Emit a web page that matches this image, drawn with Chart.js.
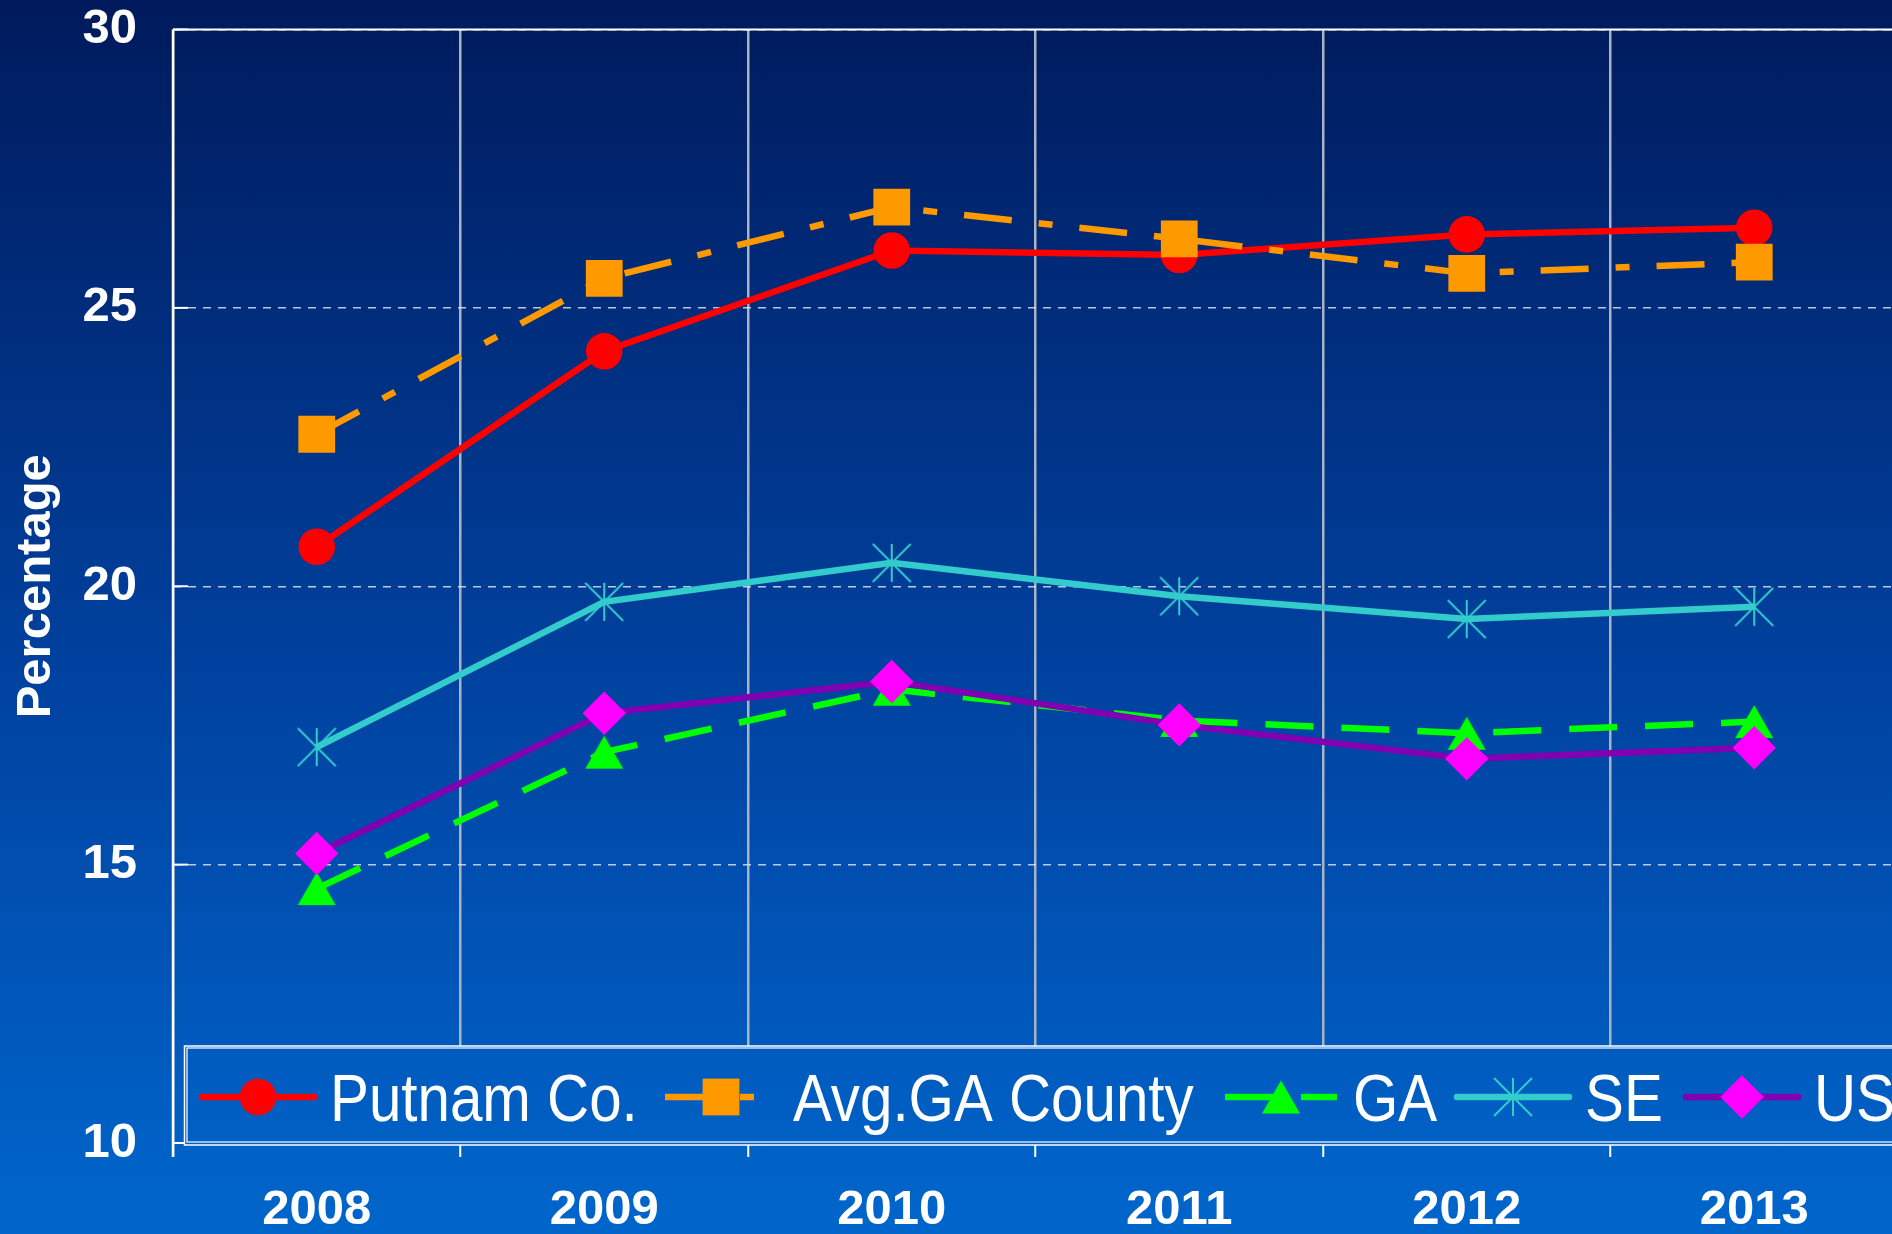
<!DOCTYPE html>
<html>
<head>
<meta charset="utf-8">
<script src="https://cdn.jsdelivr.net/npm/chart.js@4.4.1/dist/chart.umd.min.js"></script>
<style>
html, body { margin:0; padding:0; width:1892px; height:1234px; overflow:hidden;
  background: linear-gradient(to bottom, #001a5c 0%, #0042a0 55%, #0066cc 100%); }
canvas { display:block; }
</style>
</head>
<body>
<canvas id="c" width="1900" height="1234" style="width:1900px;height:1234px"></canvas>
<script>
// ---- data ----
const years = ['2008', '2009', '2010', '2011', '2012', '2013'];
const putnamCo = [20.71, 24.22, 26.03, 25.95, 26.32, 26.44];
const avgGACounty = [22.73, 25.53, 26.81, 26.24, 25.62, 25.82];
const gaState = [14.57, 17.02, 18.15, 17.59, 17.36, 17.57];
const southEast = [17.11, 19.72, 20.42, 19.82, 19.41, 19.63];
const unitedStates = [15.20, 17.72, 18.29, 17.51, 16.90, 17.10];
const seriesLabels = ['Putnam Co.', 'Avg.GA County', 'GA', 'SE', 'US'];
const yMin = 10, yMax = 30, yStep = 5;
const yTitle = 'Percentage';

// ---- styling ----
const FONT = '"Liberation Sans", Arial, sans-serif';
const bgStops = [[0, '#001a5c'], [0.55, '#0042a0'], [1, '#0066cc']];
const LINE_W = 6.5;

function makeTriangle(color, w, h) {
  const c = document.createElement('canvas');
  c.width = w + 2; c.height = h + 2;
  const g = c.getContext('2d');
  g.fillStyle = color;
  g.beginPath();
  g.moveTo(c.width / 2, 1);
  g.lineTo(c.width - 1, h + 1);
  g.lineTo(1, h + 1);
  g.closePath();
  g.fill();
  return c;
}
function makeStar(color, s, lw) {
  const c = document.createElement('canvas');
  c.width = s + 2; c.height = s + 2;
  const g = c.getContext('2d');
  g.strokeStyle = color; g.lineWidth = lw;
  const a = 1, b = s + 1, m = c.width / 2;
  g.beginPath();
  g.moveTo(a, a); g.lineTo(b, b);
  g.moveTo(b, a); g.lineTo(a, b);
  g.moveTo(m, a); g.lineTo(m, b);
  g.stroke();
  return c;
}
const triImg = makeTriangle('#00ff00', 38, 33);
const starImg = makeStar('#33cccc', 38, 2);

const datasets = [
  { label: seriesLabels[0], data: putnamCo, borderColor: '#ff0000', backgroundColor: '#ff0000',
    pointStyle: 'circle', pointRadius: 18.3, order: 5 },
  { label: seriesLabels[1], data: avgGACounty, borderColor: '#ff9900', backgroundColor: '#ff9900',
    borderDash: [48, 27, 14, 27], pointStyle: 'rect', pointRadius: 26, order: 4 },
  { label: seriesLabels[2], data: gaState, borderColor: '#00ff00', backgroundColor: '#00ff00',
    borderDash: [48, 28], pointStyle: triImg, pointRadius: 19, order: 3 },
  { label: seriesLabels[3], data: southEast, borderColor: '#33cccc', backgroundColor: '#33cccc',
    pointStyle: starImg, pointRadius: 19, order: 2 },
  { label: seriesLabels[4], data: unitedStates, borderColor: '#8000b2', backgroundColor: '#ff00ff',
    pointStyle: 'rectRot', pointRadius: 21.7, order: 1 }
];
datasets.forEach(d => {
  d.borderWidth = LINE_W;
  d.pointBackgroundColor = d.backgroundColor;
  d.pointBorderWidth = 0;
  d.pointHoverRadius = d.pointRadius;
  d.tension = 0;
  d.fill = false;
  d.clip = false;
});

// axes frame: top border, left axis, inner y tick marks
const framePlugin = {
  id: 'frame',
  beforeDatasetsDraw(chart) {
    const { ctx, chartArea: a } = chart;
    const ys = chart.scales.y;
    ctx.save();
    ctx.strokeStyle = '#ffffff';
    ctx.lineWidth = 2;
    ctx.beginPath();
    ctx.moveTo(a.left, a.top); ctx.lineTo(a.right, a.top);
    ctx.stroke();
    ctx.lineWidth = 2.5;
    ctx.beginPath();
    ctx.moveTo(a.left, a.top); ctx.lineTo(a.left, a.bottom + 14);
    ctx.stroke();
    ctx.lineWidth = 2;
    ys.ticks.forEach(t => {
      const p = ys.getPixelForValue(t.value);
      ctx.beginPath(); ctx.moveTo(a.left, p); ctx.lineTo(a.left + 15, p); ctx.stroke();
    });
    ctx.restore();
  }
};

// boxed legend inside the bottom of the plot
const LEG = { left: 184, top: 1046, bottom: 1145, y: 1097, starts: [199, 662, 1222, 1454, 1683],
  lineLen: 118, textGap: 13, fontSize: 67, textScaleX: 0.87, baseline: 1121 };
function drawMarker(ctx, ds, x, y) {
  const s = ds.pointStyle, r = ds.pointRadius;
  ctx.save();
  ctx.fillStyle = ds.pointBackgroundColor;
  if (typeof s === 'object') {
    ctx.drawImage(s, x - s.width / 2, y - s.height / 2);
  } else if (s === 'circle') {
    ctx.beginPath(); ctx.arc(x, y, r, 0, Math.PI * 2); ctx.fill();
  } else if (s === 'rect') {
    const h = Math.SQRT1_2 * r;
    ctx.fillRect(x - h, y - h, 2 * h, 2 * h);
  } else if (s === 'rectRot') {
    ctx.beginPath();
    ctx.moveTo(x - r, y); ctx.lineTo(x, y - r); ctx.lineTo(x + r, y); ctx.lineTo(x, y + r);
    ctx.closePath(); ctx.fill();
  }
  ctx.restore();
}
const legendPlugin = {
  id: 'boxLegend',
  afterDraw(chart) {
    const ctx = chart.ctx;
    ctx.save();
    const g = ctx.createLinearGradient(0, 0, 0, chart.height);
    bgStops.forEach(([o, c]) => g.addColorStop(o, c));
    ctx.fillStyle = g;
    ctx.fillRect(LEG.left, LEG.top, chart.width - LEG.left + 10, LEG.bottom - LEG.top);
    ctx.strokeStyle = '#ffffff';
    ctx.lineWidth = 1.5;
    ctx.strokeRect(LEG.left + 0.5, LEG.top, chart.width, LEG.bottom - LEG.top);
    ctx.lineWidth = 1.2;
    ctx.strokeRect(LEG.left + 3, LEG.top + 2, chart.width, LEG.bottom - LEG.top - 5);
    chart.data.datasets.forEach((ds, i) => {
      const x0 = LEG.starts[i];
      ctx.save();
      ctx.strokeStyle = ds.borderColor;
      ctx.lineWidth = ds.borderWidth;
      if (ds.borderDash) { ctx.setLineDash(ds.borderDash); ctx.lineCap = 'butt'; }
      else { ctx.lineCap = 'round'; }
      ctx.beginPath();
      ctx.moveTo(x0 + 3, LEG.y); ctx.lineTo(x0 + LEG.lineLen - 3, LEG.y);
      ctx.stroke();
      ctx.restore();
      drawMarker(ctx, ds, x0 + LEG.lineLen / 2, LEG.y);
      ctx.save();
      ctx.fillStyle = '#ffffff';
      ctx.font = LEG.fontSize + 'px ' + FONT;
      ctx.textBaseline = 'alphabetic';
      ctx.translate(x0 + LEG.lineLen + LEG.textGap, LEG.baseline);
      ctx.scale(LEG.textScaleX, 1);
      ctx.fillText(ds.label, 0, 0);
      ctx.restore();
    });
    ctx.restore();
  }
};

new Chart(document.getElementById('c'), {
  type: 'line',
  data: { labels: years, datasets },
  options: {
    responsive: false,
    animation: false,
    events: [],
    layout: { autoPadding: false, padding: { top: 29.5, right: 2, bottom: 0, left: 0 } },
    plugins: { legend: { display: false }, tooltip: { enabled: false } },
    scales: {
      x: {
        type: 'category',
        offset: true,
        grid: { offset: true, color: '#a9b3c4', lineWidth: 2.5, drawTicks: true, tickLength: 14,
                tickColor: '#ffffff', tickWidth: 2 },
        border: { display: true, color: '#ffffff', width: 2 },
        ticks: { color: '#ffffff', font: { family: FONT, size: 49, weight: 'bold', lineHeight: 2.18 }, padding: 0,
                 maxRotation: 0, autoSkip: false },
        afterFit(s) { s.height = 91; }
      },
      y: {
        min: yMin, max: yMax,
        ticks: { stepSize: yStep, color: '#ffffff', font: { family: FONT, size: 49, weight: 'bold' }, padding: 0 },
        grid: { color: 'rgba(220,226,238,0.85)', lineWidth: 1.5, drawTicks: true, tickLength: 36,
                tickColor: 'rgba(0,0,0,0)' },
        border: { display: false, dash: [8, 7] },
        title: { display: true, text: yTitle, color: '#ffffff',
                 font: { family: FONT, size: 49, weight: 'bold' }, padding: { top: 7, bottom: 0 } },
        afterFit(s) { s.width = 173; }
      }
    }
  },
  plugins: [framePlugin, legendPlugin]
});
</script>
</body>
</html>
